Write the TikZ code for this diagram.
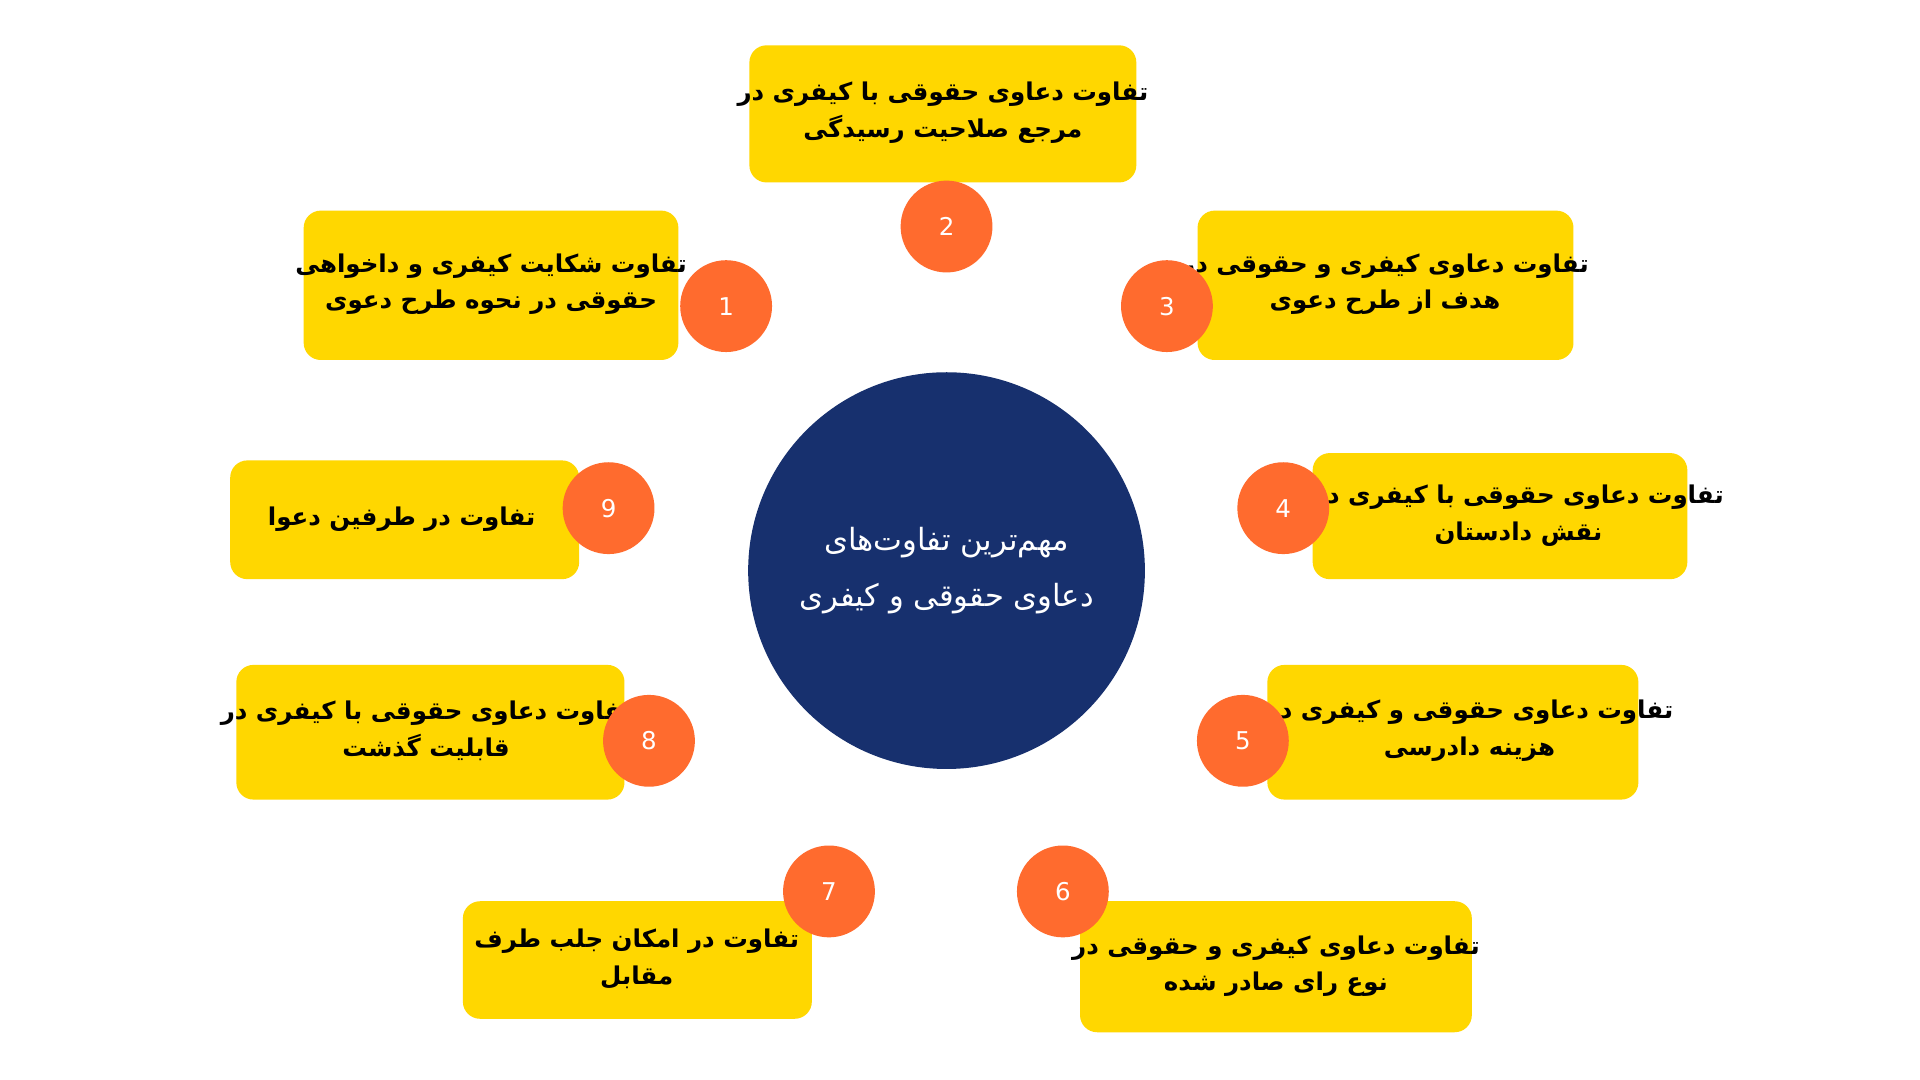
\documentclass[tikz,border=0pt]{standalone}
\usepackage{fontspec}
\TeXXeTstate=1
\newfontfamily\arabicfont[Script=Arabic]{DejaVu Sans}
\newfontfamily\numfont{DejaVu Sans}
\usetikzlibrary{backgrounds}
\definecolor{boxy}{HTML}{FFD700}
\definecolor{orng}{HTML}{FF6B2E}
\definecolor{navy}{HTML}{17306E}
\tikzset{
 ybox/.style={fill=boxy,rounded corners=14pt,draw=none},
 btxt/.style={align=center,font=\arabicfont\bfseries\fontsize{20}{30}\selectfont,text=black},
 numc/.style={circle,fill=orng,minimum size=75pt,inner sep=0pt,text=white,font=\numfont\fontsize{20}{24}\selectfont},
 conn/.style={line width=2pt,black}
}
\begin{document}
\begin{tikzpicture}[x=1pt,y=-1pt]
\useasboundingbox[fill=white] (0,0) rectangle (1568,882);
\node[circle,fill=navy,minimum size=324pt,inner sep=0pt,align=center,text=white,font=\arabicfont\fontsize{25}{46}\selectfont] (c) at (773,466) {\beginR مهم‌ترین تفاوت‌های\endR\\\beginR دعاوی حقوقی و کیفری\endR};
% boxes
\fill[ybox] (612,37) rectangle (928,149);
\fill[ybox] (248,172) rectangle (554,294);
\fill[ybox] (978,172) rectangle (1285,294);
\fill[ybox] (188,376) rectangle (473,473);
\fill[ybox] (1072,370) rectangle (1378,473);
\fill[ybox] (193,543) rectangle (510,653);
\fill[ybox] (1035,543) rectangle (1338,653);
\fill[ybox] (378,736) rectangle (663,832);
\fill[ybox] (882,736) rectangle (1202,843);
% texts
\node[btxt] (t2) at (770,92) {\beginR تفاوت دعاوی حقوقی با کیفری در\endR\\\beginR مرجع صلاحیت رسیدگی\endR};
\node[btxt] (t1) at (401,232) {\beginR تفاوت شکایت کیفری و داخواهی\endR\\\beginR حقوقی در نحوه طرح دعوی\endR};
\node[btxt] (t3) at (1131,232) {\beginR تفاوت دعاوی کیفری و حقوقی در\endR\\\beginR هدف از طرح دعوی\endR};
\node[btxt] (t9) at (328,424) {\beginR تفاوت در طرفین دعوا\endR};
\node[btxt] (t4) at (1240,421) {\beginR تفاوت دعاوی حقوقی با کیفری در\endR\\\beginR نقش دادستان\endR};
\node[btxt] (t8) at (348,597) {\beginR تفاوت دعاوی حقوقی با کیفری در\endR\\\beginR قابلیت گذشت\endR};
\node[btxt] (t5) at (1200,597) {\beginR تفاوت دعاوی حقوقی و کیفری در\endR\\\beginR هزینه دادرسی\endR};
\node[btxt] (t7) at (520,783) {\beginR تفاوت در امکان جلب طرف\endR\\\beginR مقابل\endR};
\node[btxt] (t6) at (1042,789) {\beginR تفاوت دعاوی کیفری و حقوقی در\endR\\\beginR نوع رای صادر شده\endR};
% number circles
\node[numc] (n2) at (773,185) {2};
\node[numc] (n1) at (593,250) {1};
\node[numc] (n3) at (953,250) {3};
\node[numc] (n9) at (497,415) {9};
\node[numc] (n4) at (1048,415) {4};
\node[numc] (n8) at (530,605) {8};
\node[numc] (n5) at (1015,605) {5};
\node[numc] (n7) at (677,728) {7};
\node[numc] (n6) at (868,728) {6};
\begin{scope}[on background layer]
\foreach \n in {n1,n2,n3,n4,n5,n6,n7,n8,n9} \draw[conn] (\n) -- (c);
\end{scope}
\end{tikzpicture}
\end{document}
